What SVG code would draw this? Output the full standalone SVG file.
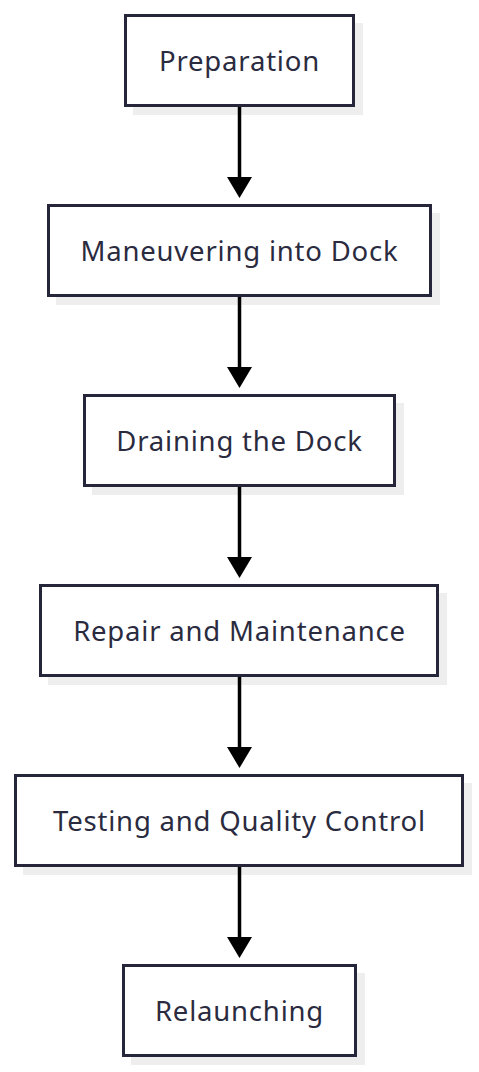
<svg xmlns="http://www.w3.org/2000/svg" width="479" height="1072" viewBox="0 0 479 1072">
<style>
.shadow{fill:#eeeeee;}
.box{fill:#ffffff;stroke:#26263a;stroke-width:3;}
.lbl{font-family:"Noto Sans",sans-serif;font-size:27.5px;fill:#2b2b40;text-anchor:middle;letter-spacing:0.8px;}
.edge{stroke:#000000;stroke-width:3.5;fill:none;}
</style>
<rect width="479" height="1072" fill="#ffffff"/>
<g id="n1">
<rect class="shadow" x="133" y="23" width="230" height="92"/>
<rect class="box" x="125.5" y="15.5" width="228" height="90"/>
<text class="lbl" x="239.5" y="70.5">Preparation</text>
</g>
<g id="n2">
<rect class="shadow" x="56" y="213" width="384" height="92"/>
<rect class="box" x="48.5" y="205.5" width="382" height="90"/>
<text class="lbl" x="239.5" y="260.5">Maneuvering into Dock</text>
</g>
<g id="n3">
<rect class="shadow" x="92" y="403" width="312" height="92"/>
<rect class="box" x="84.5" y="395.5" width="310" height="90"/>
<text class="lbl" x="239.5" y="450.5">Draining the Dock</text>
</g>
<g id="n4">
<rect class="shadow" x="48" y="593" width="399" height="92"/>
<rect class="box" x="40.5" y="585.5" width="397" height="90"/>
<text class="lbl" x="239.5" y="640.5">Repair and Maintenance</text>
</g>
<g id="n5">
<rect class="shadow" x="23" y="783" width="449" height="92"/>
<rect class="box" x="15.5" y="775.5" width="447" height="90"/>
<text class="lbl" x="239.5" y="830.5">Testing and Quality Control</text>
</g>
<g id="n6">
<rect class="shadow" x="131" y="973" width="234" height="92"/>
<rect class="box" x="123.5" y="965.5" width="232" height="90"/>
<text class="lbl" x="239.5" y="1020.5">Relaunching</text>
</g>
<g id="edges">
<line class="edge" x1="239.5" y1="107" x2="239.5" y2="178"/>
<path d="M227,177 L252,177 L239.5,198 Z" fill="#000"/>
<line class="edge" x1="239.5" y1="297" x2="239.5" y2="368"/>
<path d="M227,367 L252,367 L239.5,388 Z" fill="#000"/>
<line class="edge" x1="239.5" y1="487" x2="239.5" y2="558"/>
<path d="M227,557 L252,557 L239.5,578 Z" fill="#000"/>
<line class="edge" x1="239.5" y1="677" x2="239.5" y2="748"/>
<path d="M227,747 L252,747 L239.5,768 Z" fill="#000"/>
<line class="edge" x1="239.5" y1="867" x2="239.5" y2="938"/>
<path d="M227,937 L252,937 L239.5,958 Z" fill="#000"/>
</g>
</svg>
